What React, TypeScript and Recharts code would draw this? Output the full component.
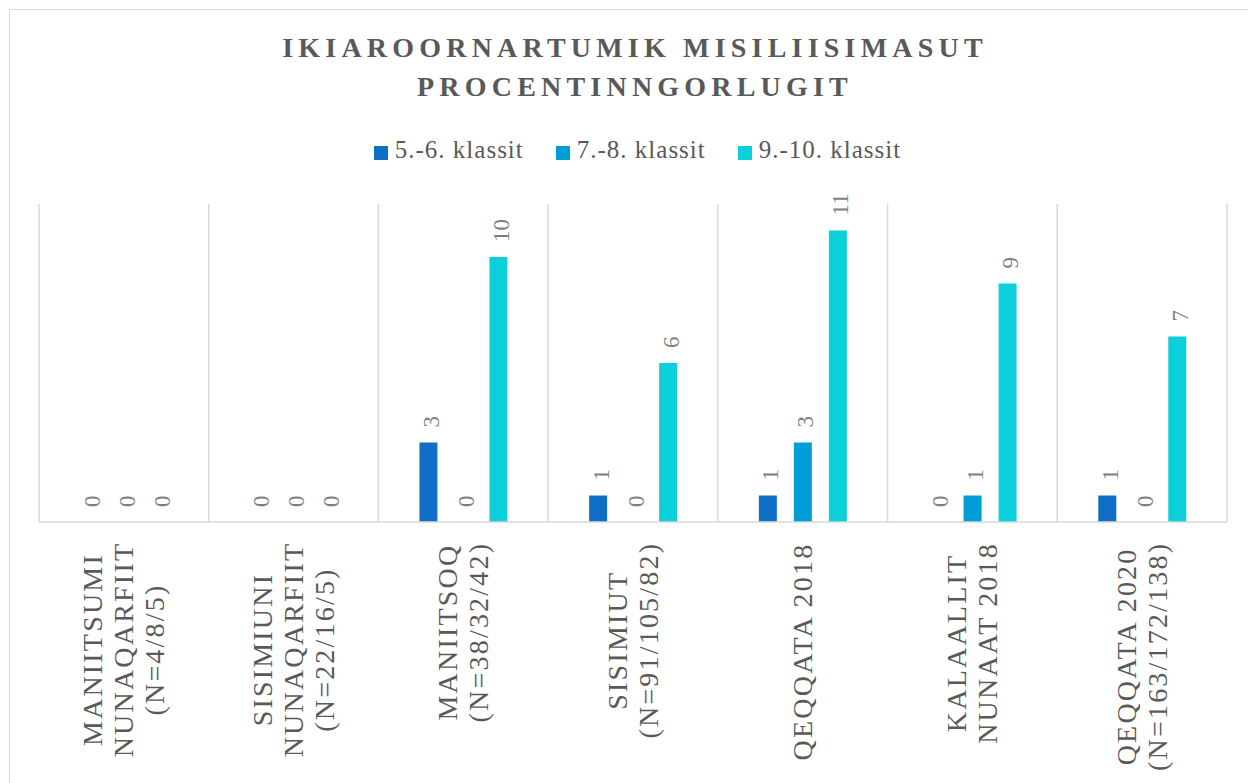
import React from "react";
import {
  BarChart,
  Bar,
  XAxis,
  YAxis,
  CartesianGrid,
  LabelList,
} from "recharts";

const categories = [
  "MANIITSUMI\nNUNAQARFIIT\n(N=4/8/5)",
  "SISIMIUNI\nNUNAQARFIIT\n(N=22/16/5)",
  "MANIITSOQ\n(N=38/32/42)",
  "SISIMIUT\n(N=91/105/82)",
  "QEQQATA 2018",
  "KALAALLIT\nNUNAAT 2018",
  "QEQQATA 2020\n(N=163/172/138)",
];
const grade56 = [0, 0, 3, 1, 1, 0, 1];
const grade78 = [0, 0, 0, 0, 3, 1, 0];
const grade910 = [0, 0, 10, 6, 11, 9, 7];

const seriesNames = ["5.-6. klassit", "7.-8. klassit", "9.-10. klassit"];
const seriesKeys = ["g56", "g78", "g910"];
const seriesColors = ["#0F6FC6", "#009DD9", "#0BD0D9"];

const titleLines = ["IKIAROORNARTUMIK MISILIISIMASUT", "PROCENTINNGORLUGIT"];

const data = categories.map((name, i) => ({
  name,
  g56: grade56[i],
  g78: grade78[i],
  g910: grade910[i],
}));

const FONT = '"Liberation Serif", "Times New Roman", serif';
const TEXT = "#595959";
const GRID = "#d9d9d9";

const TICK_SIZE = 28;
const TICK_SPACING = 2.2;
const TICK_LINE = 31;

let measureCtx: CanvasRenderingContext2D | null = null;
function textWidth(s: string, font: string) {
  if (!measureCtx) measureCtx = document.createElement("canvas").getContext("2d");
  if (!measureCtx) return s.length * 15;
  measureCtx.font = font;
  return measureCtx.measureText(s).width;
}

// rotated, centred multi-line category labels
const CategoryTick = (props: any) => {
  const { x, y, payload } = props;
  const lines = String(payload.value).split("\n");
  const widths = lines.map(
    (l) => textWidth(l, `${TICK_SIZE}px ${FONT}`) + TICK_SPACING * (l.length - 1)
  );
  const maxW = Math.max(...widths);
  const cy = y + 22 + maxW / 2;
  const n = lines.length;
  return (
    <g transform={`translate(${x},${cy}) rotate(-90)`}>
      {lines.map((l, i) => (
        <text
          key={i}
          x={TICK_SPACING / 2}
          y={(i - (n - 1) / 2) * TICK_LINE}
          textAnchor="middle"
          dominantBaseline="central"
          fontFamily={FONT}
          fontSize={TICK_SIZE}
          letterSpacing={TICK_SPACING}
          fill={TEXT}
        >
          {l}
        </text>
      ))}
    </g>
  );
};

const ValueLabel = (props: any) => {
  const { x, y, width, value } = props;
  return (
    <text
      transform={`translate(${x + width / 2 + 3},${y - 15}) rotate(-90)`}
      textAnchor="start"
      dominantBaseline="central"
      fontFamily={FONT}
      fontSize={23}
      fill="#7f7f7f"
    >
      {value}
    </text>
  );
};

export default function App() {
  return (
    <div
      style={{
        position: "absolute",
        left: 0,
        top: 0,
        width: 1248,
        height: 783,
        overflow: "hidden",
        background: "#fff",
        fontFamily: FONT,
      }}
    >
      <div
        style={{
          position: "absolute",
          left: 9,
          top: 9,
          width: 1300,
          height: 820,
          borderLeft: `1.5px solid ${GRID}`,
          borderTop: `1.5px solid ${GRID}`,
        }}
      />
      <div
        style={{
          position: "absolute",
          left: 0,
          top: 28,
          width: 1270,
          textAlign: "center",
          fontWeight: "bold",
          fontSize: 28,
          letterSpacing: 5.2,
          lineHeight: "39px",
          color: TEXT,
        }}
      >
        {titleLines.map((t) => (
          <div key={t}>{t}</div>
        ))}
      </div>
      <div
        style={{
          position: "absolute",
          left: 0,
          top: 134,
          width: 1275,
          height: 32,
          display: "flex",
          justifyContent: "center",
          alignItems: "center",
          fontSize: 25,
          letterSpacing: 1,
          color: TEXT,
        }}
      >
        {seriesNames.map((s, i) => (
          <div
            key={s}
            style={{ display: "flex", alignItems: "center", marginRight: i < 2 ? 32 : 0 }}
          >
            <span
              style={{
                display: "inline-block",
                width: 14,
                height: 14,
                marginTop: 6,
                marginRight: 7,
                background: seriesColors[i],
              }}
            />
            <span>{s}</span>
          </div>
        ))}
      </div>
      <div style={{ position: "absolute", left: 0, top: 0 }}>
        <BarChart
          width={1248}
          height={783}
          data={data}
          margin={{ top: 204, right: 21, bottom: 21, left: 39 }}
          barGap={17}
          barSize={18}
        >
          <CartesianGrid
            horizontal={false}
            stroke={GRID}
            strokeWidth={1.5}
            verticalCoordinatesGenerator={({ offset }: any) =>
              Array.from(
                { length: categories.length + 1 },
                (_, i) => offset.left + (i * offset.width) / categories.length
              )
            }
          />
          <XAxis
            dataKey="name"
            interval={0}
            height={240}
            tickLine={false}
            tickSize={0}
            tickMargin={0}
            axisLine={{ stroke: GRID, strokeWidth: 1.5 }}
            tick={<CategoryTick />}
          />
          <YAxis hide domain={[0, 12]} />
          {seriesKeys.map((k, i) => (
            <Bar
              key={k}
              dataKey={k}
              name={seriesNames[i]}
              fill={seriesColors[i]}
              minPointSize={0.01}
              isAnimationActive={false}
            >
              <LabelList dataKey={k} content={<ValueLabel />} />
            </Bar>
          ))}
        </BarChart>
      </div>
    </div>
  );
}
